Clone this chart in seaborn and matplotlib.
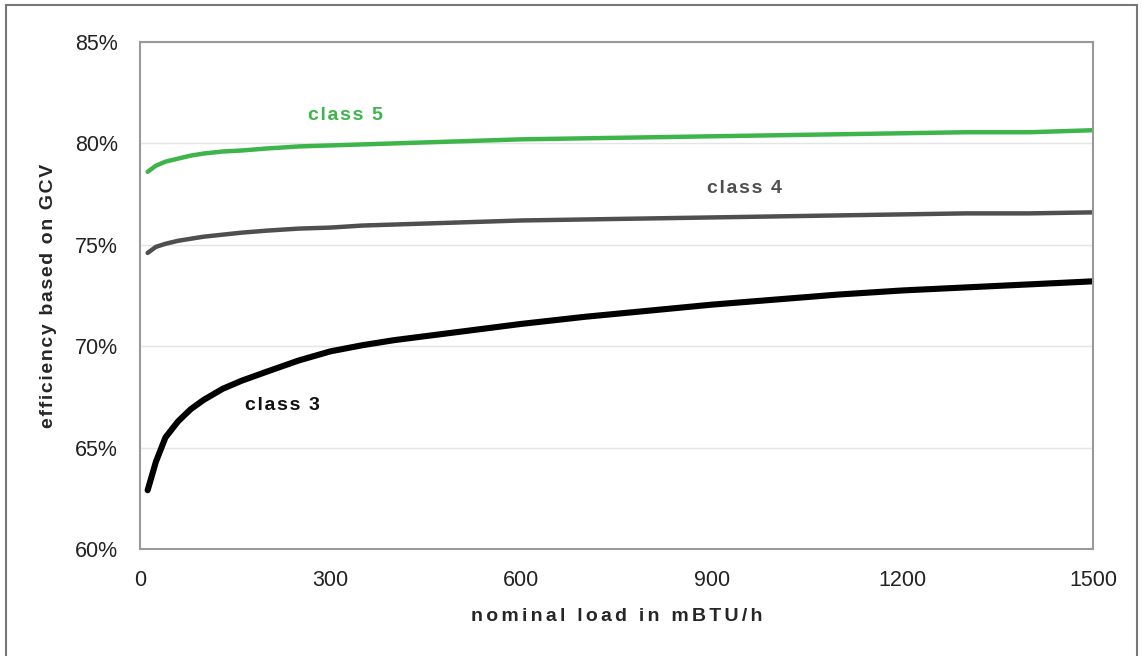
import matplotlib
matplotlib.use('Agg')
from matplotlib import pyplot as plt
from matplotlib.patches import Rectangle
from matplotlib.ticker import FuncFormatter
import seaborn as sns
import pandas as pd

load = [12, 25, 40, 60, 80, 100, 130, 160, 200, 250, 300, 350, 400, 500,
        600, 700, 800, 900, 1000, 1100, 1200, 1300, 1400, 1500]

class_5 = [78.6, 78.9, 79.1, 79.25, 79.4, 79.5, 79.6, 79.65, 79.75, 79.85, 79.9, 79.95,
           80.0, 80.1, 80.2, 80.25, 80.3, 80.35, 80.4, 80.45, 80.5, 80.55, 80.55, 80.65]
class_4 = [74.6, 74.9, 75.05, 75.2, 75.3, 75.4, 75.5, 75.6, 75.7, 75.8, 75.85, 75.95,
           76.0, 76.1, 76.2, 76.25, 76.3, 76.35, 76.4, 76.45, 76.5, 76.55, 76.55, 76.6]
class_3 = [62.9, 64.3, 65.5, 66.3, 66.9, 67.35, 67.9, 68.3, 68.75, 69.3, 69.75, 70.05,
           70.3, 70.7, 71.1, 71.45, 71.75, 72.05, 72.3, 72.55, 72.75, 72.9, 73.05, 73.2]

x_ticks = [0, 300, 600, 900, 1200, 1500]
y_ticks = [60, 65, 70, 75, 80, 85]


def spaced(s, n=1):
    # letter spacing like the original, using hair spaces
    return ("\u200a" * n).join(s)


sns.set_style("white")
plt.rcParams['font.family'] = ['Liberation Sans', 'DejaVu Sans']

fig = plt.figure(figsize=(11.42, 6.56), dpi=100)
ax = fig.add_axes([0.1226, 0.163, 0.8344, 0.773])

df = pd.DataFrame({"load": load, "c5": class_5, "c4": class_4, "c3": class_3})
sns.lineplot(data=df, x="load", y="c5", ax=ax, color="#3db54a", linewidth=3.2)
sns.lineplot(data=df, x="load", y="c4", ax=ax, color="#4f4f4f", linewidth=3.2)
sns.lineplot(data=df, x="load", y="c3", ax=ax, color="#000000", linewidth=4.4)

ax.set_xlim(0, 1500)
ax.set_ylim(60, 85)
ax.set_xticks(x_ticks)
ax.set_yticks(y_ticks)
ax.yaxis.set_major_formatter(FuncFormatter(lambda v, p: f"{v:.0f}%"))
ax.tick_params(axis='both', direction='out', length=5, width=1, color='#999999',
               labelsize=15.5, labelcolor='#222222')
ax.tick_params(axis='x', pad=10)
ax.tick_params(axis='y', pad=11)
ax.grid(axis='y', color='#e4e4e4', linewidth=1)
ax.set_axisbelow(True)
for s in ax.spines.values():
    s.set_color('#999999')
    s.set_linewidth(1.5)

ax.set_xlabel(spaced("nominal load in mBTU/h", 2), fontsize=14, fontweight='bold', labelpad=12)
ax.set_ylabel(spaced("efficiency based on GCV"), fontsize=14, fontweight='bold', labelpad=13)

ax.text(324, 81.4, spaced("class 5"), color="#3db54a", fontsize=14, fontweight='bold', ha='center', va='center')
ax.text(952, 77.8, spaced("class 4"), color="#505050", fontsize=14, fontweight='bold', ha='center', va='center')
ax.text(224, 67.1, spaced("class 3"), color="#111111", fontsize=14, fontweight='bold', ha='center', va='center')

fig.patches.append(Rectangle((0.005, -0.01), 0.991, 1.002, transform=fig.transFigure,
                             fill=False, edgecolor='#777777', linewidth=1.5))

fig.savefig("out.png", dpi=100)
